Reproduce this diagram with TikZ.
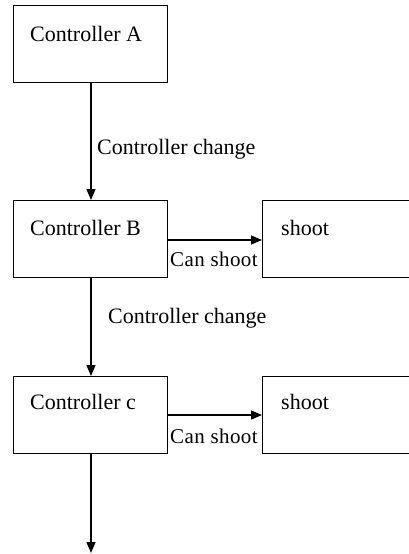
\documentclass[tikz,border=0pt]{standalone}
\usepackage{fontspec}
\setmainfont{Liberation Serif}
\newfontfamily\spaced[LetterSpace=2]{Liberation Serif}
\usetikzlibrary{arrows.meta}
\begin{document}
\begin{tikzpicture}[x=1pt,y=-1pt,
  box/.style={draw,line width=1.4pt,minimum width=154pt,minimum height=77pt,inner sep=0pt,anchor=north west},
  sbox/.style={draw,line width=1.4pt,minimum width=160pt,minimum height=77pt,inner sep=0pt,anchor=north west},
  lbl/.style={font=\fontsize{22}{24}\selectfont,inner sep=0pt,anchor=base west},
  cs/.style={font=\spaced\fontsize{21}{23}\selectfont,inner sep=0pt,anchor=base west},
  arr/.style={line width=1.3pt,-{Triangle[width=9pt,length=11pt]}}]
\useasboundingbox (0,0) rectangle (408,554);
\fill[white] (0,0) rectangle (408,554);
\node[box] (A) at (13,5) {};
\node[box] (B) at (13,200) {};
\node[box] (C) at (13,376) {};
\node[sbox] (S1) at (262,200) {};
\node[sbox] (S2) at (262,376) {};
\node[lbl] (tA) at (30,41) {Controller A};
\node[lbl] (tB) at (30,235) {Controller B};
\node[lbl] (tC) at (30,409) {Controller c};
\node[lbl] (tS1) at (281,235) {shoot};
\node[lbl] (tS2) at (281,409) {shoot};
\node[lbl] (ch1) at (97,154) {Controller change};
\node[lbl] (ch2) at (108,323) {Controller change};
\node[cs] (cs1) at (170,266) {Can shoot};
\node[cs] (cs2) at (170,443) {Can shoot};
\coordinate (end) at (91,553);
\draw[arr] (A.south -| 91,0) -- (B.north -| 91,0);
\draw[arr] (B.south -| 91,0) -- (C.north -| 91,0);
\draw[arr] (C.south -| 91,0) -- (end);
\draw[arr] (B.east |- 0,240) -- (S1.west |- 0,240);
\draw[arr] (C.east |- 0,415) -- (S2.west |- 0,415);
\end{tikzpicture}
\end{document}
